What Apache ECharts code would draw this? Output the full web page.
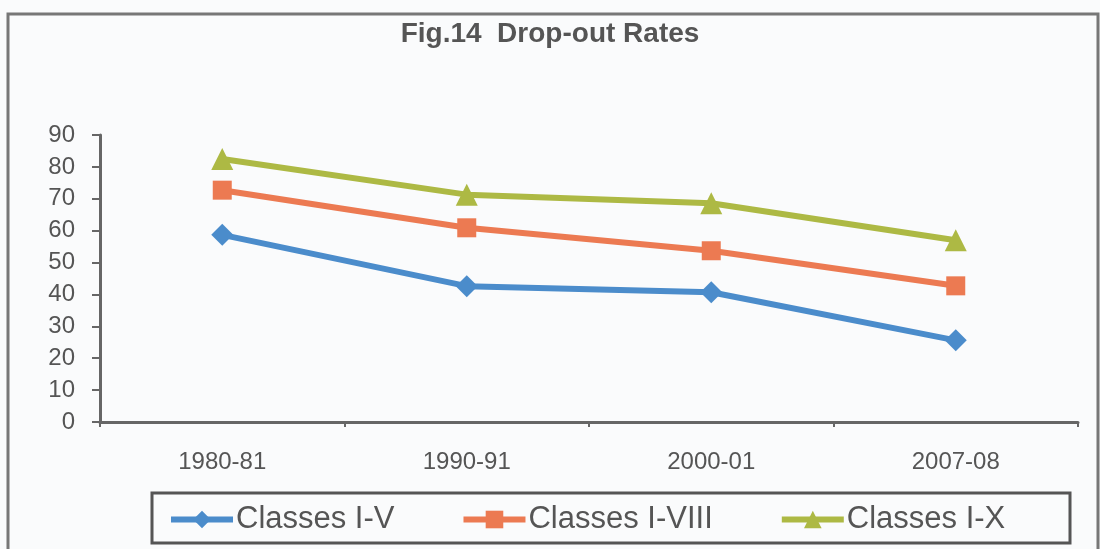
<!DOCTYPE html>
<html>
<head>
<meta charset="utf-8">
<script src="https://cdn.jsdelivr.net/npm/echarts@6/dist/echarts.min.js"></script>
<style>
  html, body { margin: 0; padding: 0; background: #fafbfc; }
  #chart { width: 1100px; height: 549px; }
</style>
</head>
<body>
<div id="chart"></div>
<script>
var years = ['1980-81', '1990-91', '2000-01', '2007-08']
var classesV = [58.7, 42.6, 40.7, 25.6]
var classesVIII = [72.7, 60.9, 53.7, 42.7]
var classesX = [82.5, 71.3, 68.6, 57.0]
var yTicks = [0, 10, 20, 30, 40, 50, 60, 70, 80, 90]

var font = '"Liberation Sans", Arial, sans-serif'
var axisColor = '#666'
var textColor = '#555'

var myChart = echarts.init(document.getElementById('chart'))

function serie(name, data, color, symbol, size) {
  return {
    name: name,
    type: 'line',
    data: data,
    symbol: symbol,
    symbolSize: size,
    lineStyle: { color: color, width: 6 },
    itemStyle: { color: color },
    z: 3
  }
}

var option = {
  backgroundColor: '#fafbfc',
  animation: false,
  title: {
    text: 'Fig.14  Drop-out Rates',
    left: 'center',
    top: 15,
    textStyle: {
      fontFamily: font,
      fontWeight: 'bold',
      fontSize: 28,
      color: textColor
    }
  },
  graphic: [
    {
      type: 'rect',
      shape: { x: 8, y: 14, width: 1090, height: 545 },
      style: { fill: 'none', stroke: '#777', lineWidth: 3 },
      silent: true
    },
    {
      type: 'rect',
      shape: { x: 152, y: 493, width: 918, height: 50 },
      style: { fill: 'none', stroke: '#555', lineWidth: 3 },
      silent: true
    }
  ],
  legend: {
    left: 163,
    top: 499,
    itemWidth: 62,
    itemHeight: 22,
    itemGap: 66,
    lineStyle: { width: 6 },
    textStyle: {
      fontFamily: font,
      fontSize: 31,
      color: textColor,
      padding: [0, 0, 0, -2]
    },
    data: ['Classes I-V', 'Classes I-VIII', 'Classes I-X']
  },
  grid: {
    left: 100,
    right: 22,
    top: 135,
    bottom: 127
  },
  xAxis: {
    type: 'category',
    data: years,
    boundaryGap: true,
    axisLine: { lineStyle: { color: axisColor, width: 3 } },
    axisTick: { show: true, length: 5, lineStyle: { color: axisColor, width: 2 } },
    axisLabel: {
      margin: 28,
      fontFamily: font,
      fontSize: 24,
      color: textColor
    },
    splitLine: { show: false }
  },
  yAxis: {
    type: 'value',
    min: yTicks[0],
    max: yTicks[yTicks.length - 1],
    interval: 10,
    axisLine: { show: true, lineStyle: { color: axisColor, width: 3 } },
    axisTick: { show: true, length: 8, lineStyle: { color: axisColor, width: 2 } },
    axisLabel: {
      margin: 25,
      fontFamily: font,
      fontSize: 24,
      color: textColor
    },
    splitLine: { show: false }
  },
  series: [
    serie('Classes I-V', classesV, '#4b8ccb', 'diamond', 22),
    serie('Classes I-VIII', classesVIII, '#ec7a52', 'rect', 19),
    serie('Classes I-X', classesX, '#adb944', 'triangle', 22)
  ]
}

myChart.setOption(option)
</script>
</body>
</html>
